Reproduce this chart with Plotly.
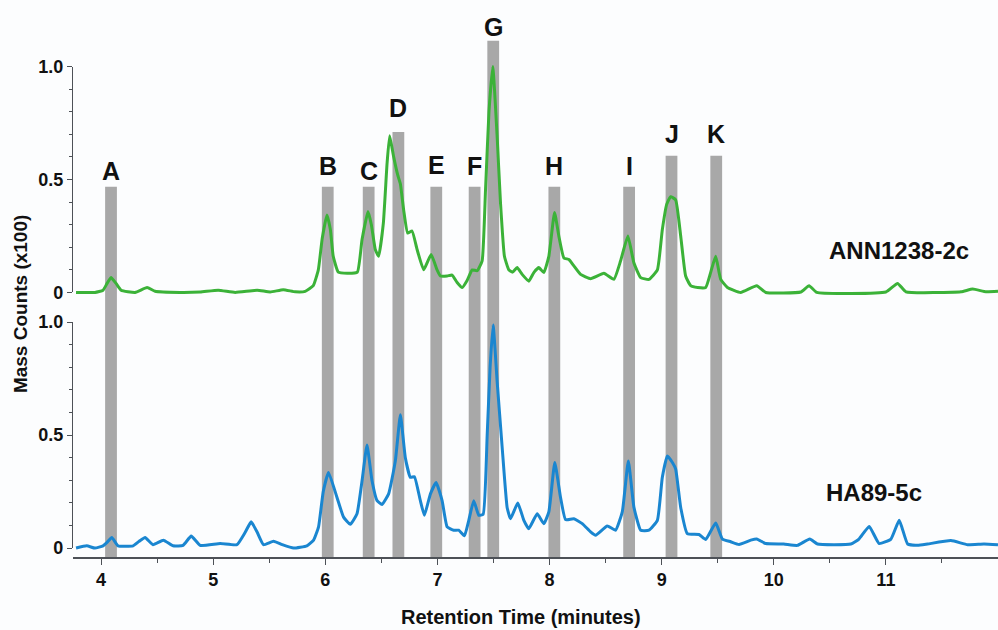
import plotly.graph_objects as go

# ---------------- data ----------------
# Top chromatogram (ANN1238-2c): retention time (min) and relative mass counts (x100)
ann_time = [3.777, 3.946, 4.018, 4.054, 4.089, 4.134, 4.179, 4.304, 4.411, 4.482, 4.705, 4.884,
            5.045, 5.196, 5.393, 5.509, 5.625, 5.732, 5.821, 5.893, 5.938, 5.973, 6.015, 6.045,
            6.071, 6.116, 6.196, 6.286, 6.328, 6.381, 6.411, 6.446, 6.476, 6.518, 6.551, 6.574,
            6.610, 6.646, 6.670, 6.699, 6.735, 6.774, 6.819, 6.878, 6.944, 6.997, 7.027, 7.087,
            7.131, 7.176, 7.221, 7.265, 7.310, 7.355, 7.399, 7.429, 7.460, 7.494, 7.533, 7.563,
            7.598, 7.637, 7.670, 7.711, 7.756, 7.815, 7.860, 7.905, 7.949, 7.994, 8.045, 8.083,
            8.128, 8.173, 8.217, 8.277, 8.366, 8.485, 8.574, 8.634, 8.699, 8.753, 8.813, 8.887,
            8.962, 9.006, 9.045, 9.080, 9.125, 9.170, 9.214, 9.259, 9.321, 9.393, 9.438, 9.482,
            9.527, 9.587, 9.705, 9.848, 9.929, 10.241, 10.315, 10.384, 11.000, 11.104, 11.179,
            11.670, 11.774, 11.893, 12.000]
ann_counts = [0.000, 0.000, 0.010, 0.040, 0.066, 0.040, 0.010, 0.000, 0.022, 0.005, 0.000, 0.002,
              0.010, 0.000, 0.010, 0.002, 0.012, 0.003, 0.005, 0.030, 0.100, 0.240, 0.343, 0.280,
              0.160, 0.090, 0.085, 0.090, 0.234, 0.358, 0.300, 0.190, 0.160, 0.307, 0.570, 0.694,
              0.600, 0.520, 0.480, 0.365, 0.263, 0.272, 0.190, 0.100, 0.168, 0.100, 0.073, 0.073,
              0.077, 0.044, 0.022, 0.053, 0.100, 0.096, 0.140, 0.450, 0.800, 1.000, 0.690, 0.395,
              0.160, 0.100, 0.090, 0.110, 0.080, 0.050, 0.088, 0.110, 0.088, 0.160, 0.354, 0.250,
              0.153, 0.146, 0.118, 0.080, 0.061, 0.085, 0.058, 0.140, 0.250, 0.130, 0.066, 0.058,
              0.100, 0.278, 0.390, 0.424, 0.410, 0.250, 0.073, 0.030, 0.022, 0.022, 0.090, 0.160,
              0.058, 0.022, 0.000, 0.030, 0.000, 0.002, 0.030, 0.000, 0.002, 0.040, 0.003,
              0.003, 0.015, 0.003, 0.005]

# Bottom chromatogram (HA89-5c)
ha_time = [3.777, 3.872, 3.946, 4.018, 4.054, 4.096, 4.152, 4.286, 4.340, 4.393, 4.464, 4.556,
           4.643, 4.732, 4.804, 4.884, 5.063, 5.212, 5.286, 5.339, 5.393, 5.449, 5.539, 5.616,
           5.717, 5.836, 5.896, 5.940, 5.982, 6.029, 6.104, 6.163, 6.223, 6.283, 6.328, 6.372,
           6.417, 6.462, 6.506, 6.565, 6.625, 6.670, 6.714, 6.759, 6.795, 6.848, 6.884, 6.938,
           6.988, 7.042, 7.087, 7.146, 7.190, 7.241, 7.280, 7.324, 7.369, 7.408, 7.444, 7.470,
           7.497, 7.533, 7.578, 7.622, 7.652, 7.717, 7.771, 7.815, 7.890, 7.949, 7.994, 8.047,
           8.098, 8.143, 8.217, 8.292, 8.366, 8.411, 8.515, 8.589, 8.649, 8.703, 8.753, 8.813,
           8.887, 8.962, 9.006, 9.051, 9.096, 9.125, 9.170, 9.229, 9.333, 9.393, 9.482, 9.542,
           9.616, 9.690, 9.795, 9.848, 9.929, 10.089, 10.211, 10.321, 10.390, 10.688, 10.760,
           10.851, 10.940, 11.045, 11.119, 11.194, 11.283, 11.372, 11.580, 11.729, 11.875, 12.000]
ha_counts = [0.000, 0.010, 0.000, 0.010, 0.025, 0.047, 0.010, 0.010, 0.030, 0.047, 0.015, 0.035,
             0.010, 0.012, 0.053, 0.012, 0.020, 0.015, 0.070, 0.116, 0.070, 0.015, 0.030, 0.015,
             0.000, 0.010, 0.035, 0.094, 0.250, 0.335, 0.225, 0.137, 0.105, 0.152, 0.298, 0.456,
             0.298, 0.210, 0.193, 0.240, 0.386, 0.590, 0.400, 0.313, 0.316, 0.210, 0.145, 0.240,
             0.290, 0.210, 0.094, 0.079, 0.079, 0.054, 0.123, 0.210, 0.145, 0.150, 0.500, 0.800,
             0.988, 0.737, 0.444, 0.180, 0.130, 0.199, 0.123, 0.086, 0.152, 0.108, 0.160, 0.379,
             0.225, 0.126, 0.130, 0.108, 0.072, 0.057, 0.098, 0.079, 0.160, 0.386, 0.180, 0.079,
             0.079, 0.123, 0.313, 0.408, 0.379, 0.350, 0.180, 0.064, 0.060, 0.038, 0.111, 0.040,
             0.028, 0.016, 0.035, 0.040, 0.020, 0.018, 0.012, 0.040, 0.018, 0.018, 0.040,
             0.096, 0.020, 0.040, 0.123, 0.018, 0.012, 0.018, 0.033, 0.015, 0.018, 0.015]

# Marked peaks: label, retention time, top of the grey marker (in stacked plot units)
peak_labels = ["A", "B", "C", "D", "E", "F", "G", "H", "I", "J", "K"]
peak_times = [4.089, 6.022, 6.387, 6.652, 6.990, 7.332, 7.498, 8.043, 8.710, 9.088, 9.487]
peak_tops = [1.60, 1.60, 1.60, 1.842, 1.60, 1.60, 2.246, 1.60, 1.60, 1.737, 1.737]

sample_names = ["ANN1238-2c", "HA89-5c"]
x_ticks = [4, 5, 6, 7, 8, 9, 10, 11]
y_ticks = [0, 0.5, 1.0]
y_ticktext = ["0", "0.5", "1.0"]

# ---------------- layout constants ----------------
OFFSET = 1.1316          # vertical offset of the top chromatogram
Y_LO, Y_HI = -0.0395, 2.382
X_LO, X_HI = 3.75, 12.0
BAR_W = 0.105
label_shift = [16, 21, 16, 24, 22, 21, 14, 21, 21, 22, 22]

FONT = "Liberation Sans, Arial, sans-serif"
AXIS_COLOR = "#4d5157"
GREEN = "#3bb238"
BLUE = "#1a86d0"
BAR = "#a8a8a8"


def frac(v):
    return (v - Y_LO) / (Y_HI - Y_LO)


fig = go.Figure()

fig.add_trace(go.Scatter(
    x=ann_time, y=[c + OFFSET for c in ann_counts], mode="lines",
    line=dict(color=GREEN, width=3, shape="spline", smoothing=0.4),
    xaxis="x", yaxis="y", showlegend=False, hoverinfo="skip"))
fig.add_trace(go.Scatter(
    x=ha_time, y=ha_counts, mode="lines",
    line=dict(color=BLUE, width=3, shape="spline", smoothing=0.4),
    xaxis="x", yaxis="y", showlegend=False, hoverinfo="skip"))
# empty traces so the two display axes are drawn
fig.add_trace(go.Scatter(x=[], y=[], xaxis="x", yaxis="y2", showlegend=False, hoverinfo="skip"))
fig.add_trace(go.Scatter(x=[], y=[], xaxis="x", yaxis="y3", showlegend=False, hoverinfo="skip"))

shapes = []
annotations = []
for lab, t, top, sh in zip(peak_labels, peak_times, peak_tops, label_shift):
    shapes.append(dict(type="rect", xref="x", yref="y", x0=t - BAR_W / 2, x1=t + BAR_W / 2,
                       y0=Y_LO, y1=top, fillcolor=BAR, line=dict(width=0), layer="below"))
    annotations.append(dict(x=t, y=top, xref="x", yref="y", text=lab, showarrow=False,
                            yanchor="middle", yshift=sh,
                            font=dict(family=FONT, size=25, color="#111111", weight="bold")))

annotations.append(dict(x=11.116, y=OFFSET + 0.184, xref="x", yref="y", text=sample_names[0],
                        showarrow=False, xanchor="center",
                        font=dict(family=FONT, size=24, color="#111111", weight="bold")))
annotations.append(dict(x=10.893, y=0.2456, xref="x", yref="y", text=sample_names[1],
                        showarrow=False, xanchor="center",
                        font=dict(family=FONT, size=24, color="#111111", weight="bold")))
annotations.append(dict(x=-0.0573, y=frac(1.08), xref="paper", yref="paper",
                        xanchor="center", yanchor="middle",
                        text="Mass Counts (x100)", textangle=-90, showarrow=False,
                        font=dict(family=FONT, size=19, color="#111111", weight="bold")))
annotations.append(dict(x=0.484, y=-0.109, xref="paper", yref="paper",
                        xanchor="center", yanchor="middle",
                        text="Retention Time (minutes)", showarrow=False,
                        font=dict(family=FONT, size=20, color="#111111", weight="bold")))

minor_y = [i / 10 for i in range(0, 11)]
yaxis_display = dict(
    range=[0, 1.0], tickmode="array", tickvals=y_ticks, ticktext=y_ticktext,
    ticks="outside", ticklen=5, tickwidth=1.2, tickcolor=AXIS_COLOR,
    showline=True, linecolor=AXIS_COLOR, linewidth=1.3, showgrid=False, zeroline=False,
    minor=dict(tickmode="array", tickvals=minor_y, ticks="outside", ticklen=3,
               tickcolor=AXIS_COLOR, tickwidth=1, showgrid=False),
    tickfont=dict(family=FONT, size=18, color="#111111", weight="bold"),
    anchor="x", fixedrange=True,
)

fig.update_layout(
    width=998, height=630,
    margin=dict(l=73, r=0, t=5, b=73),
    paper_bgcolor="#fcfdfe", plot_bgcolor="rgba(0,0,0,0)",
    shapes=shapes, annotations=annotations,
    xaxis=dict(
        range=[X_LO, X_HI], tickmode="array", tickvals=x_ticks,
        ticks="outside", ticklen=6, tickwidth=1.3, tickcolor=AXIS_COLOR,
        showline=True, linecolor=AXIS_COLOR, linewidth=1.5, showgrid=False, zeroline=False,
        minor=dict(tickmode="array", tickvals=[t + 0.5 for t in x_ticks],
                   ticks="outside", ticklen=4, tickcolor=AXIS_COLOR, tickwidth=1.2, showgrid=False),
        tickfont=dict(family=FONT, size=18, color="#111111", weight="bold"),
        anchor="y", fixedrange=True,
    ),
    yaxis=dict(range=[Y_LO, Y_HI], domain=[0, 1], visible=False, fixedrange=True),
    yaxis2=dict(domain=[frac(0), frac(1.0)], **yaxis_display),
    yaxis3=dict(domain=[frac(OFFSET), frac(OFFSET + 1.0)], **yaxis_display),
)

fig.write_html("out.html")
